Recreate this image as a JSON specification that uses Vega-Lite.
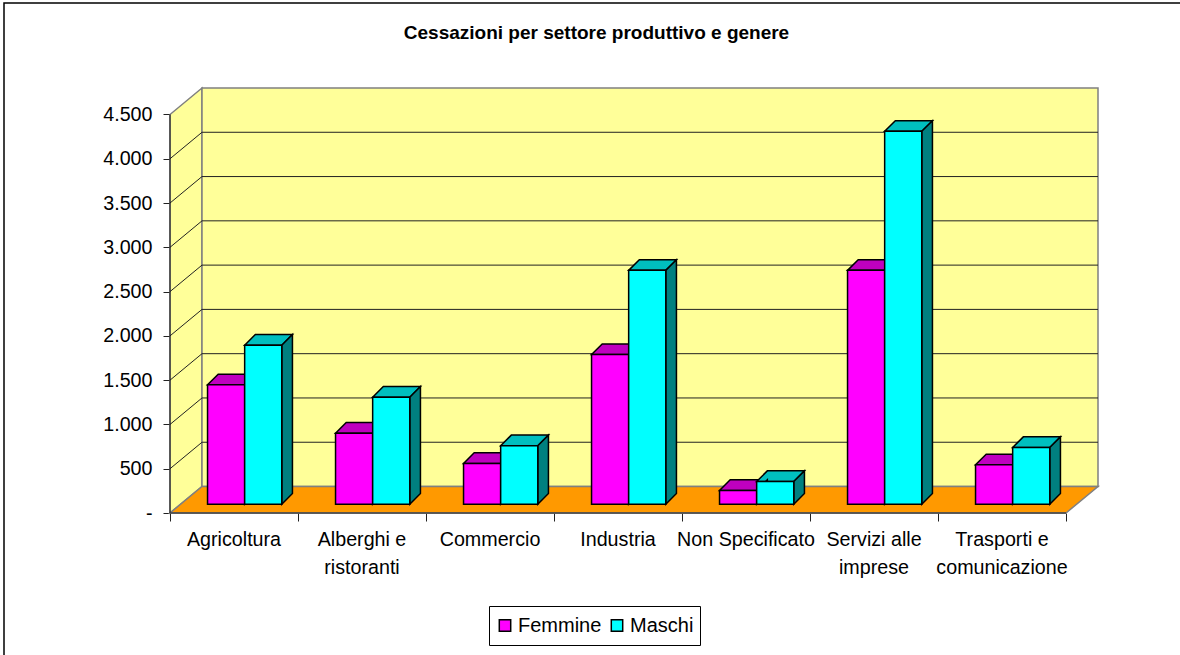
{
"$schema":"https://vega.github.io/schema/vega-lite/v6.json",
"width":1177,"height":653,
"autosize":{"type":"none"},
"padding":{"left":4,"top":3,"right":0,"bottom":0},
"background":"white",
"title":{"text":"Cessazioni per settore produttivo e genere","font":"Liberation Sans","fontWeight":"bold","fontSize":19,"color":"black","anchor":"middle","frame":"group","offset":-40,"dx":4},
"config":{"view":{"stroke":"black","strokeWidth":1.5},"font":"Liberation Sans"},
"datasets":{
"barre":[
{"settore":"Agricoltura","genere":"Femmine","valore":1348},
{"settore":"Agricoltura","genere":"Maschi","valore":1795},
{"settore":"Alberghi e ristoranti","genere":"Femmine","valore":802},
{"settore":"Alberghi e ristoranti","genere":"Maschi","valore":1208},
{"settore":"Commercio","genere":"Femmine","valore":460},
{"settore":"Commercio","genere":"Maschi","valore":660},
{"settore":"Industria","genere":"Femmine","valore":1690},
{"settore":"Industria","genere":"Maschi","valore":2640},
{"settore":"Non Specificato","genere":"Femmine","valore":155},
{"settore":"Non Specificato","genere":"Maschi","valore":256},
{"settore":"Servizi alle imprese","genere":"Femmine","valore":2640},
{"settore":"Servizi alle imprese","genere":"Maschi","valore":4210},
{"settore":"Trasporti e comunicazione","genere":"Femmine","valore":445},
{"settore":"Trasporti e comunicazione","genere":"Maschi","valore":640}
],
"griglia":[{"valore":500},{"valore":1000},{"valore":1500},{"valore":2000},{"valore":2500},{"valore":3000},{"valore":3500},{"valore":4000}],
"etichette":[
{"settore":"Agricoltura","etichetta":"Agricoltura","i":0},
{"settore":"Alberghi e ristoranti","etichetta":"Alberghi e\nristoranti","i":1},
{"settore":"Commercio","etichetta":"Commercio","i":2},
{"settore":"Industria","etichetta":"Industria","i":3},
{"settore":"Non Specificato","etichetta":"Non Specificato","i":4},
{"settore":"Servizi alle imprese","etichetta":"Servizi alle\nimprese","i":5},
{"settore":"Trasporti e comunicazione","etichetta":"Trasporti e\ncomunicazione","i":6}
]
},
"encoding":{
"x":{"field":"xx","type":"quantitative","scale":{"domain":[0,7.25],"range":[166,1094],"nice":false,"zero":false},
"axis":{"title":null,"values":[0,1,2,3,4,5,6,7],"labels":false,"domain":false,"grid":false,"ticks":true,"tickSize":8,"tickColor":"#222222","offset":-143,"orient":"bottom"}},
"y":{"field":"yy","type":"quantitative","stack":null,"scale":{"domain":[0,4799],"range":[510,85],"nice":false,"zero":false},
"axis":{"title":null,"values":[0,500,1000,1500,2000,2500,3000,3500,4000,4500],"labelExpr":"datum.value==0?'-':replace(format(datum.value,','),',','.')","labelFont":"Liberation Sans","labelFontSize":19.7,"labelColor":"black","labelPadding":11,"domain":false,"grid":false,"tickSize":7,"tickColor":"#222222","offset":-166,"orient":"left"}}
},
"layer":[
{"data":{"values":[{"parete":"sinistra"}]},
"transform":[{"calculate":"[0,0.25]","as":"xx"},{"calculate":"[0,299]","as":"yy"},{"calculate":"[4500,4799]","as":"yy2"},{"flatten":["xx","yy","yy2"]}],
"mark":{"type":"area","fill":"#FFFF99","stroke":"#808080","strokeWidth":1.5,"orient":"vertical"},
"encoding":{"y2":{"field":"yy2"}}},
{"data":{"values":[{"parete":"fondo"}]},
"transform":[{"calculate":"[0.25,7.25]","as":"xx"},{"calculate":"[299,299]","as":"yy"},{"calculate":"[4799,4799]","as":"yy2"},{"flatten":["xx","yy","yy2"]}],
"mark":{"type":"area","fill":"#FFFF99","stroke":"#808080","strokeWidth":1.5,"orient":"vertical"},
"encoding":{"y2":{"field":"yy2"}}},
{"data":{"values":[{"parete":"pavimento"}]},
"transform":[{"calculate":"[0,0.25,7,7.25]","as":"xx"},{"calculate":"[0,0,0,299]","as":"yy"},{"calculate":"[0,299,299,299]","as":"yy2"},{"flatten":["xx","yy","yy2"]}],
"mark":{"type":"area","fill":"#FF9900","stroke":"#808080","strokeWidth":1.5,"orient":"vertical"},
"encoding":{"y2":{"field":"yy2"}}},
{"data":{"name":"griglia"},
"transform":[{"calculate":"[0,0.25,7.25]","as":"xx"},{"calculate":"[datum.valore,datum.valore+299,datum.valore+299]","as":"yy"},{"flatten":["xx","yy"]}],
"mark":{"type":"line","stroke":"#222222","strokeWidth":1},
"encoding":{"detail":{"field":"valore"}}},
{"data":{"values":[{"linea":"asse y"}]},
"transform":[{"calculate":"[0,0]","as":"xx"},{"calculate":"[0,4500]","as":"yy"},{"flatten":["xx","yy"]}],
"mark":{"type":"line","stroke":"#111111","strokeWidth":1,"orient":"horizontal"},
"encoding":{"x":{"field":"xx","type":"quantitative"},"order":{"field":"yy"}}},
{"data":{"values":[{"linea":"asse x"}]},
"transform":[{"calculate":"[0,7]","as":"xx"},{"calculate":"[0,0]","as":"yy"},{"flatten":["xx","yy"]}],
"mark":{"type":"line","stroke":"#444444","strokeWidth":1.5},
"encoding":{}},
{"data":{"name":"barre"},
"transform":[
{"calculate":"indexof(['Agricoltura','Alberghi e ristoranti','Commercio','Industria','Non Specificato','Servizi alle imprese','Trasporti e comunicazione'],datum.settore)","as":"i"},
{"calculate":"datum.genere=='Femmine'?0:1","as":"s"},
{"calculate":"datum.i+0.21+0.0833+0.29*datum.s","as":"x0"},
{"calculate":"datum.x0+0.29","as":"x1"},
{"calculate":"[datum.x0,datum.x0+0.0833,datum.x1,datum.x1+0.0833]","as":"xx"},
{"calculate":"[datum.valore+99.7,datum.valore+99.7,datum.valore+99.7,datum.valore+219.7]","as":"yy"},
{"calculate":"[datum.valore+99.7,datum.valore+219.7,datum.valore+219.7,datum.valore+219.7]","as":"yy2"},
{"flatten":["xx","yy","yy2"]}
],
"mark":{"type":"area","stroke":"black","strokeWidth":1.5,"orient":"vertical"},
"encoding":{"y2":{"field":"yy2"},"detail":{"field":"settore"},
"color":{"field":"genere","type":"nominal","legend":null,"scale":{"domain":["Femmine","Maschi"],"range":["#BF00BF","#00BFBF"]}}}},
{"data":{"name":"barre"},
"transform":[
{"calculate":"indexof(['Agricoltura','Alberghi e ristoranti','Commercio','Industria','Non Specificato','Servizi alle imprese','Trasporti e comunicazione'],datum.settore)","as":"i"},
{"calculate":"datum.genere=='Femmine'?0:1","as":"s"},
{"calculate":"datum.i+0.21+0.0833+0.29*datum.s+0.29","as":"x1"},
{"calculate":"[datum.x1,datum.x1+0.0833]","as":"xx"},
{"calculate":"[99.7,219.7]","as":"yy"},
{"calculate":"[datum.valore+99.7,datum.valore+219.7]","as":"yy2"},
{"flatten":["xx","yy","yy2"]}
],
"mark":{"type":"area","stroke":"black","strokeWidth":1.5,"orient":"vertical"},
"encoding":{"y2":{"field":"yy2"},"detail":{"field":"settore"},
"color":{"field":"genere","type":"nominal","legend":null,"scale":{"domain":["Femmine","Maschi"],"range":["#800080","#008080"]}}}},
{"data":{"name":"barre"},
"transform":[
{"calculate":"indexof(['Agricoltura','Alberghi e ristoranti','Commercio','Industria','Non Specificato','Servizi alle imprese','Trasporti e comunicazione'],datum.settore)","as":"i"},
{"calculate":"datum.genere=='Femmine'?0:1","as":"s"},
{"calculate":"datum.i+0.21+0.0833+0.29*datum.s","as":"xx"},
{"calculate":"datum.xx+0.29","as":"xx2"},
{"calculate":"99.7","as":"yy"},
{"calculate":"datum.valore+99.7","as":"yy2"}
],
"mark":{"type":"rect","stroke":"black","strokeWidth":1.5},
"encoding":{"x2":{"field":"xx2"},"y2":{"field":"yy2"},
"color":{"field":"genere","type":"nominal","scale":{"domain":["Femmine","Maschi"],"range":["#FF00FF","#00FFFF"]},
"legend":{"title":null,"orient":"none","legendX":485,"legendY":603,"direction":"horizontal","columns":2,"fillColor":"white","strokeColor":"black","padding":6,"clipHeight":27,"symbolType":"square","symbolSize":130,"symbolStrokeColor":"black","symbolStrokeWidth":1.5,"symbolOpacity":1,"labelFont":"Liberation Sans","labelFontSize":20,"labelColor":"black","columnPadding":5,"labelOffset":3}}}},
{"data":{"name":"etichette"},
"transform":[{"calculate":"datum.i+0.5","as":"xx"},{"calculate":"0","as":"yy"}],
"mark":{"type":"text","font":"Liberation Sans","fontSize":19.7,"color":"black","baseline":"top","align":"center","lineBreak":"\n","lineHeight":28,"dy":17},
"encoding":{"text":{"field":"etichetta"}}}
],
"resolve":{"scale":{"color":"independent"}}
}
